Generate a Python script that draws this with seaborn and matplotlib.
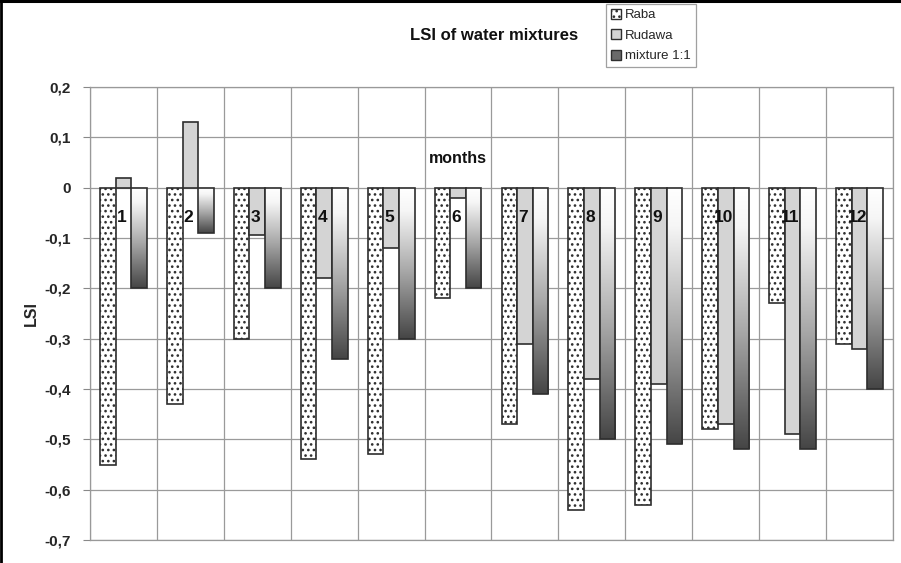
import numpy as np
import pandas as pd
import matplotlib
matplotlib.use("Agg")
import matplotlib.pyplot as plt
import seaborn as sns
from matplotlib.colors import LinearSegmentedColormap
from matplotlib.patches import Patch
from matplotlib.lines import Line2D

# ---- data ----
months = ["1", "2", "3", "4", "5", "6", "7", "8", "9", "10", "11", "12"]
series = ["Raba", "Rudawa", "mixture 1:1"]
raba = [-0.55, -0.43, -0.30, -0.54, -0.53, -0.22, -0.47, -0.64, -0.63, -0.48, -0.23, -0.31]
rudawa = [0.02, 0.13, -0.095, -0.18, -0.12, -0.02, -0.31, -0.38, -0.39, -0.47, -0.49, -0.32]
mixture = [-0.20, -0.09, -0.20, -0.34, -0.30, -0.20, -0.41, -0.50, -0.51, -0.52, -0.52, -0.40]
yticks = [0.2, 0.1, 0.0, -0.1, -0.2, -0.3, -0.4, -0.5, -0.6, -0.7]
ytick_labels = ["0,2", "0,1", "0", "-0,1", "-0,2", "-0,3", "-0,4", "-0,5", "-0,6", "-0,7"]
title = "LSI of water mixtures"
xlabel_text = "months"
ylabel_text = "LSI"

df = pd.DataFrame({
    "month": months * 3,
    "series": [series[0]] * 12 + [series[1]] * 12 + [series[2]] * 12,
    "LSI": raba + rudawa + mixture,
})

sns.set_theme(style="white")
plt.rcParams["font.family"] = ["Liberation Sans", "DejaVu Sans"]
plt.rcParams["hatch.linewidth"] = 1.1

fig = plt.figure(figsize=(9.01, 5.63), dpi=100)
ax = fig.add_axes([90 / 901, 1 - 540 / 563, (893 - 90) / 901, (540 - 87) / 563])

sns.barplot(data=df, x="month", y="LSI", hue="series", order=months,
            hue_order=series, width=0.7, ax=ax, legend=False,
            errorbar=None, zorder=3)

edge = "#2e2e2e"
cont_raba, cont_rud, cont_mix = ax.containers[0], ax.containers[1], ax.containers[2]
for p in cont_raba:
    p.set_facecolor("white")
    p.set_edgecolor(edge)
    p.set_hatch("...")
    p.set_linewidth(1.2)
for p in cont_rud:
    p.set_facecolor("#d4d4d4")
    p.set_edgecolor(edge)
    p.set_linewidth(1.2)

cmap = LinearSegmentedColormap.from_list(
    "grad", [(0.0, "#ffffff"), (0.15, "#f6f6f6"), (0.55, "#a8a8a8"), (1.0, "#454545")])
grad = np.linspace(0, 1, 256).reshape(-1, 1)
for p in cont_mix:
    p.set_facecolor("none")
    p.set_edgecolor(edge)
    p.set_linewidth(1.2)
    p.set_zorder(4)
    bb = p.get_bbox()
    ylo, yhi = min(bb.y0, bb.y1), max(bb.y0, bb.y1)
    xlo, xhi = min(bb.x0, bb.x1), max(bb.x0, bb.x1)
    im = ax.imshow(grad, cmap=cmap, aspect="auto", origin="upper",
                   extent=(xlo, xhi, ylo, yhi), zorder=3.5,
                   interpolation="bilinear")
    im.set_clip_path(p)

ax.set_xlim(-0.5, len(months) - 0.5)
ax.set_ylim(yticks[-1], yticks[0])
ax.set_yticks(yticks)
ax.set_yticklabels(ytick_labels, fontsize=11, fontweight="bold")
ax.set_xticks(np.arange(len(months)))
ax.set_xticklabels([])
ax.set_xticks(np.arange(len(months) + 1) - 0.5, minor=True)
ax.tick_params(axis="x", which="both", length=0)
ax.tick_params(axis="y", which="major", length=5, width=0.8, color="#888888",
               direction="out", pad=9, left=True)
ax.set_xlabel("")
ax.set_ylabel(ylabel_text, fontsize=11.5, fontweight="bold", labelpad=4)
ax.yaxis.grid(True, color="#9a9a9a", linewidth=0.9, zorder=0)
ax.xaxis.grid(True, which="minor", color="#9a9a9a", linewidth=0.9, zorder=0)
ax.xaxis.grid(False, which="major")
ax.set_axisbelow(True)
for s in ax.spines.values():
    s.set_color("#999999")
    s.set_linewidth(0.9)

# month numbers inside the plot
for i, m in enumerate(months):
    ax.text(i - 0.03, -0.06, m, ha="center", va="center", fontsize=12.5,
            fontweight="bold", color="#111111", zorder=6)
ax.text(5, 0.058, xlabel_text, ha="center", va="center", fontsize=11.5,
        fontweight="bold", color="#111111", zorder=6)

fig.text(494 / 901, 1 - 35 / 563, title, ha="center", va="center",
         fontsize=12, fontweight="bold", color="#111111")

handles = [
    Patch(facecolor="white", edgecolor=edge, hatch="...", linewidth=1.0),
    Patch(facecolor="#d4d4d4", edgecolor=edge, linewidth=1.0),
    Patch(facecolor="#6a6a6a", edgecolor=edge, linewidth=1.0),
]
leg = fig.legend(handles, series, loc="upper left",
                 bbox_to_anchor=(606 / 901, 1 - 4 / 563), fontsize=9.5,
                 frameon=True, fancybox=False, handlelength=0.8,
                 handleheight=0.8, handletextpad=0.3, borderpad=0.35,
                 labelspacing=0.6, borderaxespad=0)
leg.get_frame().set_edgecolor("#888888")
leg.get_frame().set_linewidth(0.9)

# black frame lines at top and left of the image
fig.add_artist(Line2D([0, 1], [1 - 1.2 / 563, 1 - 1.2 / 563], color="black",
                      linewidth=2.2, transform=fig.transFigure))
fig.add_artist(Line2D([1.2 / 901, 1.2 / 901], [0, 1], color="black",
                      linewidth=2.0, transform=fig.transFigure))

fig.savefig("out.png", dpi=100)
